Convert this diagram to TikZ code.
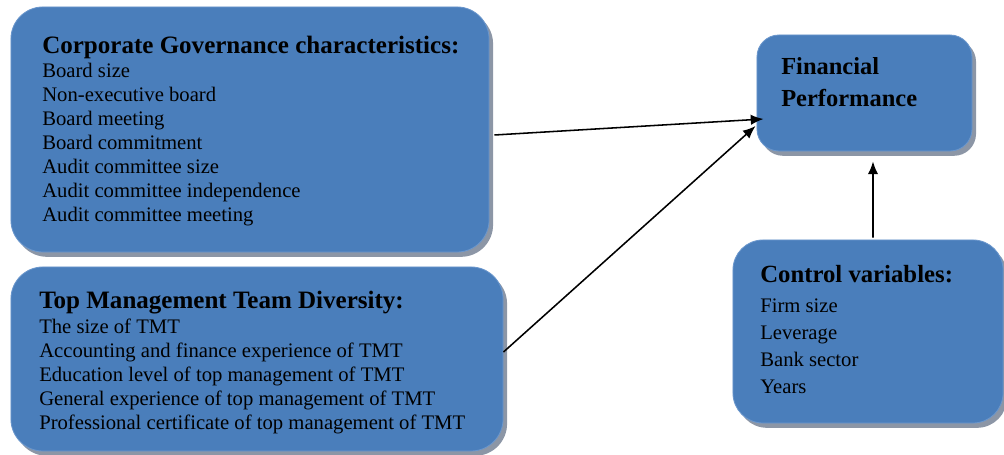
\documentclass[tikz,border=0pt]{standalone}
\usepackage{fontspec}
\setmainfont{Liberation Serif}
\usepackage{tikz}
\usetikzlibrary{shadows, arrows.meta, positioning}
\usepackage{xcolor}
\definecolor{boxblue}{HTML}{4A7EBB}
\definecolor{boxedge}{HTML}{6A96CC}
\definecolor{shadowgray}{HTML}{8C96A6}

\begin{document}
\begin{tikzpicture}[x=0.025cm, y=0.025cm, >={Latex[length=0.32cm,width=0.26cm]}]
        \tikzstyle{box}=[rectangle, rounded corners=0.8cm, fill=boxblue, draw=boxedge, line width=0.6pt,
            drop shadow={shadow xshift=0.1cm, shadow yshift=-0.12cm, fill=shadowgray, opacity=1}]
        \tikzstyle{boxtext}=[anchor=north west, inner sep=0pt, align=left, text=black]
        \tikzstyle{link}=[->, line width=1.1pt]
        \useasboundingbox (0,0) rectangle (1004,454);

        % Boxes
        \node (cg)[box, minimum width=11.95cm, minimum height=6.125cm] at (250,324.5) {};
        \node (tmt)[box, minimum width=12.3cm, minimum height=4.6cm] at (257,95) {};
        \node (fp)[box, rounded corners=0.55cm, minimum width=5.375cm, minimum height=2.9cm] at (864.5,361) {};
        \node (cv)[box, rounded corners=0.75cm, minimum width=6.75cm, minimum height=4.575cm] at (868,122.5) {};

        % Box texts
        \node (cgtext)[boxtext, font=\fontsize{14.7}{17.1}\selectfont] at (42,418)
            {{\bfseries\fontsize{17.8}{17.8}\selectfont Corporate Governance characteristics:}\\
             Board size\\ Non-executive board\\ Board meeting\\ Board commitment\\
             Audit committee size\\ Audit committee independence\\ Audit committee meeting};
        \node (tmttext)[boxtext, font=\fontsize{14.7}{17.1}\selectfont] at (39,163)
            {{\bfseries\fontsize{17.8}{17.8}\selectfont Top Management Team Diversity:}\\[0.5pt]
             The size of TMT\\ Accounting and finance experience of TMT\\
             Education level of top management of TMT\\ General experience of top management of TMT\\
             Professional certificate of top management of TMT};
        \node (fptext)[boxtext, font=\bfseries\fontsize{17.4}{22.75}\selectfont] at (781,397)
            {Financial\\ Performance};
        \node (cvtext)[boxtext, font=\fontsize{14.7}{19.2}\selectfont] at (760,189)
            {{\bfseries\fontsize{17.6}{17.6}\selectfont Control variables:}\\[2pt]
             Firm size\\ Leverage\\ Bank sector\\ Years};

        % Arrows to financial performance
        \draw[link] ([shift={(5,-5.5)}]cg.east) -- ([shift={(7,-26)}]fp.west);
        \draw[link] ([shift={(0,7)}]tmt.east) -- ([shift={(-1,-33)}]fp.west);
        \draw[link] ([shift={(5,2)}]cv.north) -- ([shift={(8.5,-10)}]fp.south);
\end{tikzpicture}
\end{document}
